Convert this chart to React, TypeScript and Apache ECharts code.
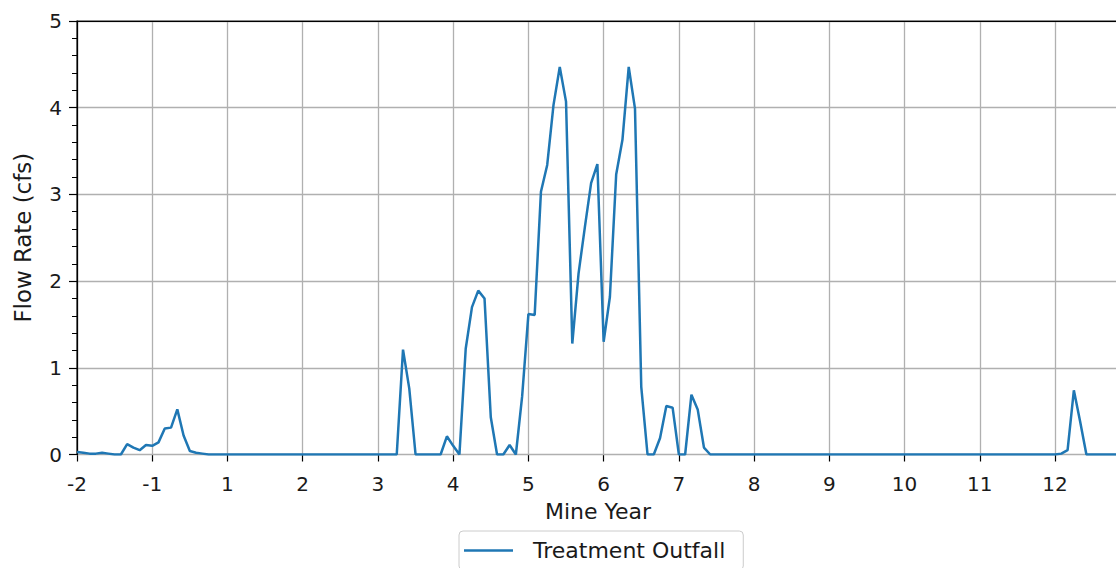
import React, { useEffect, useRef } from "react";
import * as echarts from "echarts";

// Monthly series: first sample at axis position -2, one sample per month (12 per axis year)
const START_POSITION = -2;
const SAMPLES_PER_YEAR = 12;

// Flow rate (cfs), one row per axis year (12 monthly values each)
const flowRateCfs: number[] = [
  0.03, 0.02, 0.01, 0.01, 0.02, 0.01, 0, 0, 0.12, 0.08, 0.05, 0.11,
  0.10, 0.14, 0.30, 0.31, 0.52, 0.22, 0.04, 0.02, 0.01, 0, 0, 0,
  0, 0, 0, 0, 0, 0, 0, 0, 0, 0, 0, 0,
  0, 0, 0, 0, 0, 0, 0, 0, 0, 0, 0, 0,
  0, 0, 0, 0, 1.21, 0.76, 0, 0, 0, 0, 0, 0.21,
  0.10, 0, 1.22, 1.70, 1.89, 1.80, 0.43, 0, 0, 0.11, 0, 0.67,
  1.62, 1.61, 3.03, 3.34, 4.03, 4.47, 4.07, 1.28, 2.09, 2.62, 3.13, 3.35,
  1.30, 1.82, 3.23, 3.63, 4.47, 3.99, 0.78, 0, 0, 0.19, 0.56, 0.54,
  0, 0, 0.69, 0.52, 0.08, 0, 0, 0, 0, 0, 0, 0,
  0, 0, 0, 0, 0, 0, 0, 0, 0, 0, 0, 0,
  0, 0, 0, 0, 0, 0, 0, 0, 0, 0, 0, 0,
  0, 0, 0, 0, 0, 0, 0, 0, 0, 0, 0, 0,
  0, 0, 0, 0, 0, 0, 0, 0, 0, 0, 0, 0,
  0, 0.01, 0.05, 0.74, 0.38, 0, 0, 0, 0, 0, 0, 0,
];

// Tick labels for axis positions -2 .. 11 (there is no Mine Year 0)
const mineYearLabels = [
  "-2", "-1", "1", "2", "3", "4", "5", "6", "7", "8", "9", "10", "11", "12",
];

const yTickLabels = ["0", "1", "2", "3", "4", "5"];

const SERIES_NAME = "Treatment Outfall";
const FONT = "DejaVu Sans";
const TEXT_COLOR = "#1a1a1a";

const X_MIN = -2;
const X_MAX = 11.85;

export default function App() {
  const ref = useRef<HTMLDivElement>(null);

  useEffect(() => {
    if (!ref.current) return;
    const chart = echarts.init(ref.current, undefined, { renderer: "svg" });
    const data = flowRateCfs.map((v, k) => [START_POSITION + k / SAMPLES_PER_YEAR, v]);

    chart.setOption({
      animation: false,
      backgroundColor: "#fff",
      grid: {
        left: 77,
        top: 21,
        width: 1042,
        height: 433.5,
        outerBoundsMode: "none",
        containLabel: false,
        show: true,
        borderColor: "#000",
        borderWidth: 1.2,
        backgroundColor: "transparent",
      },
      xAxis: [
        {
          type: "value",
          min: X_MIN,
          max: X_MAX,
          interval: 1,
          name: "Mine Year",
          nameLocation: "middle",
          nameGap: 46,
          nameTextStyle: { fontFamily: FONT, fontSize: 22, color: TEXT_COLOR },
          axisLine: { show: true, onZero: false, lineStyle: { color: "#000", width: 1.2 } },
          axisTick: { show: true, length: 7, lineStyle: { color: "#000", width: 1.2 } },
          axisLabel: {
            margin: 19,
            fontFamily: FONT,
            fontSize: 20,
            color: TEXT_COLOR,
            showMaxLabel: false,
            formatter: (v: number) => {
              const r = Math.round(v);
              if (Math.abs(v - r) > 1e-6) return "";
              return mineYearLabels[r + 2] ?? "";
            },
          },
          splitLine: { show: true, lineStyle: { color: "#b0b0b0", width: 1.3 } },
        },
        {
          type: "value",
          position: "top",
          min: X_MIN,
          max: X_MAX,
          interval: 1,
          z: 5,
          axisLine: { show: true, onZero: false, lineStyle: { color: "#000", width: 1.2 } },
          axisTick: { show: false },
          axisLabel: { show: false },
          splitLine: { show: false },
        },
      ],
      yAxis: {
        type: "value",
        min: 0,
        max: 5,
        interval: 1,
        z: 4,
        name: "Flow Rate (cfs)",
        nameLocation: "middle",
        nameGap: 43,
        nameTextStyle: { fontFamily: FONT, fontSize: 22.9, color: TEXT_COLOR },
        axisLine: { show: true, onZero: false, lineStyle: { color: "#000", width: 1.2 } },
        axisTick: { show: true, length: 8, lineStyle: { color: "#000", width: 1.2 } },
        minorTick: { show: true, splitNumber: 5, length: 5, lineStyle: { color: "#000", width: 1 } },
        axisLabel: {
          margin: 15,
          fontFamily: FONT,
          fontSize: 20,
          color: TEXT_COLOR,
          formatter: (v: number) => yTickLabels[Math.round(v)] ?? "",
        },
        splitLine: { show: true, lineStyle: { color: "#b0b0b0", width: 1.3 } },
      },
      legend: {
        left: 459,
        top: 531,
        padding: [8.5, 18, 8.5, 5],
        itemWidth: 49,
        itemHeight: 2.5,
        selectedMode: false,
        borderColor: "#cccccc",
        borderWidth: 1,
        borderRadius: 4,
        backgroundColor: "#fff",
        textStyle: { fontFamily: FONT, fontSize: 22, color: TEXT_COLOR, padding: [0, 0, 0, 15] },
        data: [{ name: SERIES_NAME, icon: "rect" }],
      },
      series: [
        {
          type: "line",
          name: SERIES_NAME,
          data,
          xAxisIndex: 0,
          symbol: "none",
          showSymbol: false,
          clip: true,
          z: 6,
          lineStyle: { color: "#1f77b4", width: 2.5 },
          itemStyle: { color: "#1f77b4" },
        },
      ],
    });

    return () => chart.dispose();
  }, []);

  return (
    <div
      ref={ref}
      style={{ position: "fixed", left: 0, top: 0, width: 1116, height: 568, background: "#fff" }}
    />
  );
}
